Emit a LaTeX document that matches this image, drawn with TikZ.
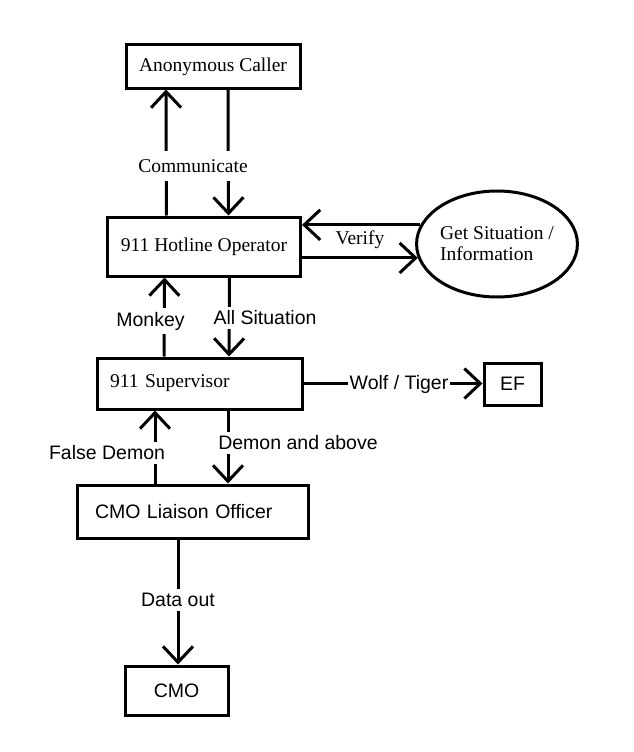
\documentclass[tikz,border=0pt]{standalone}
\usepackage{fontspec}
\setmainfont{Liberation Serif}
\setsansfont{Liberation Sans}
\usetikzlibrary{arrows.meta,shapes.geometric}

\begin{document}
\begin{tikzpicture}[x=1pt,y=-1pt,>={Straight Barb[length=16pt,width=30pt]},line width=3pt,
		serif box/.style={rectangle,draw,inner sep=0pt,font=\rmfamily\fontsize{19.5}{23}\selectfont},
		sans box/.style={rectangle,draw,inner sep=0pt,font=\sffamily\fontsize{19.5}{23}\selectfont},
		serif label/.style={fill=white,inner xsep=2pt,inner ysep=4pt,font=\rmfamily\fontsize{19.5}{23}\selectfont},
		sans label/.style={fill=white,inner xsep=2pt,inner ysep=4pt,font=\sffamily\fontsize{19.5}{23}\selectfont}]

		\useasboundingbox (0,0) rectangle (634,752);

		\node[serif box,minimum width=174,minimum height=43] (caller) at (213,66.5) {Anonymous Caller};
		\node[serif box,minimum width=193,minimum height=59] (oper) at (204,246.5) {911 Hotline Operator};
		\node[ellipse,draw,inner sep=0pt,minimum width=151,minimum height=106,align=left,
			font=\rmfamily\fontsize{19.5}{21}\selectfont] (info) at (497,244) {Get Situation /\\Information};
		\node[serif box,minimum height=51,text width=179,inner xsep=13,align=left] (super) at (199.5,383.5) {911 Supervisor};
		\node[sans box,minimum width=57,minimum height=42] (ef) at (512.5,384) {EF};
		\node[sans box,minimum height=53,text width=195,inner xsep=18,align=left] (liaison) at (192.5,511.5) {CMO Liaison Officer};
		\node[sans box,minimum width=103,minimum height=49] (cmo) at (176.5,690.5) {CMO};

		% caller <-> operator
		\draw[->] ([xshift=-37.5pt]oper.north) -- ([xshift=-47pt]caller.south);
		\draw[->] ([xshift=15pt]caller.south) -- ([xshift=24.5pt]oper.north);
		% operator <-> info
		\draw[->] (info.166) -- (oper.east |- info.166);
		\draw[->] (oper.east |- info.190) -- (info.190);
		% operator <-> supervisor
		\draw[->] ([xshift=-35.5pt]super.north) -- ([xshift=-39.5pt]oper.south);
		\draw[->] ([xshift=25.5pt]oper.south) -- ([xshift=29.5pt]super.north);
		\draw[->] (super.east) -- (super.east -| ef.west);
		% supervisor <-> liaison
		\draw[->] ([xshift=-37.5pt]liaison.north) -- ([xshift=-44.5pt]super.south);
		\draw[->] ([xshift=28.5pt]super.south) -- ([xshift=35.5pt]liaison.north);
		\draw[->] ([xshift=-14.5pt]liaison.south) -- ([xshift=1.5pt]cmo.north);

		\node[serif label,inner ysep=8pt] (comm) at (193,166) {Communicate};
		\node[serif label,fill=none] (verify) at (360,240) {Verify};
		\node[sans label] (monkey) at (150.5,321) {Monkey};
		\node[sans label] (allsit) at (265,318) {All Situation};
		\node[sans label] (wolf) at (399,384) {Wolf / Tiger};
		\node[sans label] (falsed) at (107,453) {False Demon};
		\node[sans label] (demon) at (298,443) {Demon and above};
		\node[sans label] (data) at (178,600) {Data out};
	\end{tikzpicture}
\end{document}
